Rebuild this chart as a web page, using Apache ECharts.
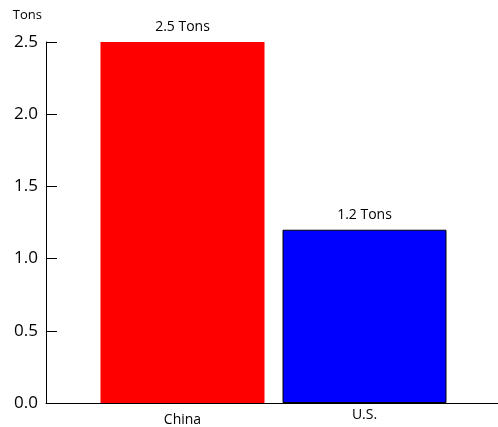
<!DOCTYPE html>
<html>
<head>
<meta charset="utf-8">
<script src="https://cdn.jsdelivr.net/npm/echarts@6/dist/echarts.min.js"></script>
<style>html,body{margin:0;padding:0;background:#fff}#c{width:498px;height:427px}</style>
</head>
<body>
<div id="c"></div>
<script>
var categories = ['China', 'U.S.'];
var values = [2.5, 1.2];
var barColors = ['#ff0000', '#0000ff'];
var barBorders = [0, 1];
var yTicks = [0, 0.5, 1.0, 1.5, 2.0, 2.5];
var unit = 'Tons';

var FONT = 'Open Sans';
var chart = echarts.init(document.getElementById('c'), null, {renderer: 'canvas'});
var yMin = yTicks[0], yMax = yTicks[yTicks.length - 1], yStep = yTicks[1] - yTicks[0];

chart.setOption({
  animation: false,
  textStyle: {fontFamily: FONT},
  grid: [
    {left: 46, right: 0, top: 42, bottom: 24},
    {left: 91.5, width: 364, top: 42, bottom: 24}
  ],
  xAxis: [
    {gridIndex: 0, type: 'value', min: 0, max: 1, show: true,
     axisLine: {show: true, lineStyle: {color: '#000', width: 1}},
     axisTick: {show: false}, axisLabel: {show: false}, splitLine: {show: false}},
    {gridIndex: 1, type: 'category', data: categories,
     axisLine: {show: false}, axisTick: {show: false}, splitLine: {show: false},
     axisLabel: {
       margin: 5, color: '#000', fontSize: 14, fontFamily: FONT,
       formatter: function (v) { return v === categories[0] ? '{a|' + v + '}' : '{b|' + v + '}'; },
       rich: {
         a: {fontSize: 14, fontFamily: FONT, color: '#000', padding: [5, 0, 0, 0]},
         b: {fontSize: 14, fontFamily: FONT, color: '#000', padding: [0, 0, 0, 0]}
       }
     }}
  ],
  yAxis: [
    {gridIndex: 0, type: 'value', min: yMin, max: yMax, interval: yStep,
     name: unit, nameLocation: 'end', nameGap: 20,
     nameTextStyle: {color: '#000', fontSize: 13, fontFamily: FONT, align: 'right', padding: [0, 4, 0, 0]},
     axisLine: {show: true, lineStyle: {color: '#000', width: 1}},
     axisTick: {show: true, inside: true, length: 11, lineStyle: {color: '#000'}},
     axisLabel: {color: '#000', fontSize: 17, fontFamily: FONT, margin: 8,
       formatter: function (v) { return v.toFixed(1); }},
     splitLine: {show: false}},
    {gridIndex: 1, type: 'value', min: yMin, max: yMax, show: false}
  ],
  series: [{
    type: 'bar', xAxisIndex: 1, yAxisIndex: 1, barWidth: 164,
    data: values.map(function (v, i) {
      return {value: v, itemStyle: {color: barColors[i], borderColor: '#000', borderWidth: barBorders[i]}};
    }),
    label: {show: true, position: 'top', distance: 8, color: '#000', fontSize: 14, fontFamily: FONT,
      formatter: function (p) { return p.value + ' ' + unit; }}
  }]
});
</script>
</body>
</html>
